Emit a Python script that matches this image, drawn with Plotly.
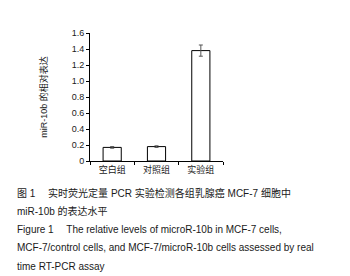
import plotly.graph_objects as go

categories = ["空白组", "对照组", "实验组"]
values = [0.17, 0.18, 1.38]
errors = [0.01, 0.01, 0.07]
tick_vals = [0, 0.2, 0.4, 0.6, 0.8, 1.0, 1.2, 1.4, 1.6]
tick_text = ["0", "0.2", "0.4", "0.6", "0.8", "1.0", "1.2", "1.4", "1.6"]
caption_lines = [
    "图 1　 实时荧光定量 PCR 实验检测各组乳腺癌 MCF-7 细胞中",
    "miR-10b 的表达水平",
    "Figure 1　 The relative levels of microR-10b in MCF-7 cells,",
    "MCF-7/control cells, and MCF-7/microR-10b cells assessed by real",
    "time RT-PCR assay",
]

W, H = 350, 276
L, R, T, B = 82, 135, 25, 123
pw, ph = W - L - R, H - T - B

fig = go.Figure()
fig.add_trace(go.Bar(
    x=categories, y=values,
    marker=dict(color="white", line=dict(color="black", width=1)),
    width=0.41,
    error_y=dict(type="data", array=errors, color="#555555", thickness=1, width=2),
))

font_en = "Liberation Sans, Arial, Noto Sans CJK SC"
for i, line in enumerate(caption_lines):
    ypix = 185 + i * 18.3
    fig.add_annotation(
        text=line, xref="paper", yref="paper",
        x=(7 - L) / pw, y=(T + ph - ypix) / ph,
        xanchor="left", yanchor="middle", showarrow=False,
        font=dict(size=10, color="#1a1a1a", family=font_en),
    )

fig.update_layout(
    width=W, height=H,
    margin=dict(l=L, r=R, t=T, b=B),
    paper_bgcolor="white", plot_bgcolor="white",
    showlegend=False,
    font=dict(family=font_en, size=9, color="#1a1a1a"),
    bargap=0.59,
)
fig.update_yaxes(
    range=[0, 1.6], tickvals=tick_vals, ticktext=tick_text,
    showgrid=False, zeroline=False, showline=True, linecolor="black", linewidth=1,
    ticks="outside", ticklen=3, tickcolor="black",
    title=dict(text="miR-10b 的相对表达", font=dict(size=9), standoff=22),
    tickfont=dict(size=9),
)
fig.update_xaxes(
    showgrid=False, showline=True, linecolor="black", linewidth=1,
    ticks="outside", tickson="boundaries", ticklen=3, tickcolor="black",
    tickfont=dict(size=9),
)

fig.write_html("out.html")
